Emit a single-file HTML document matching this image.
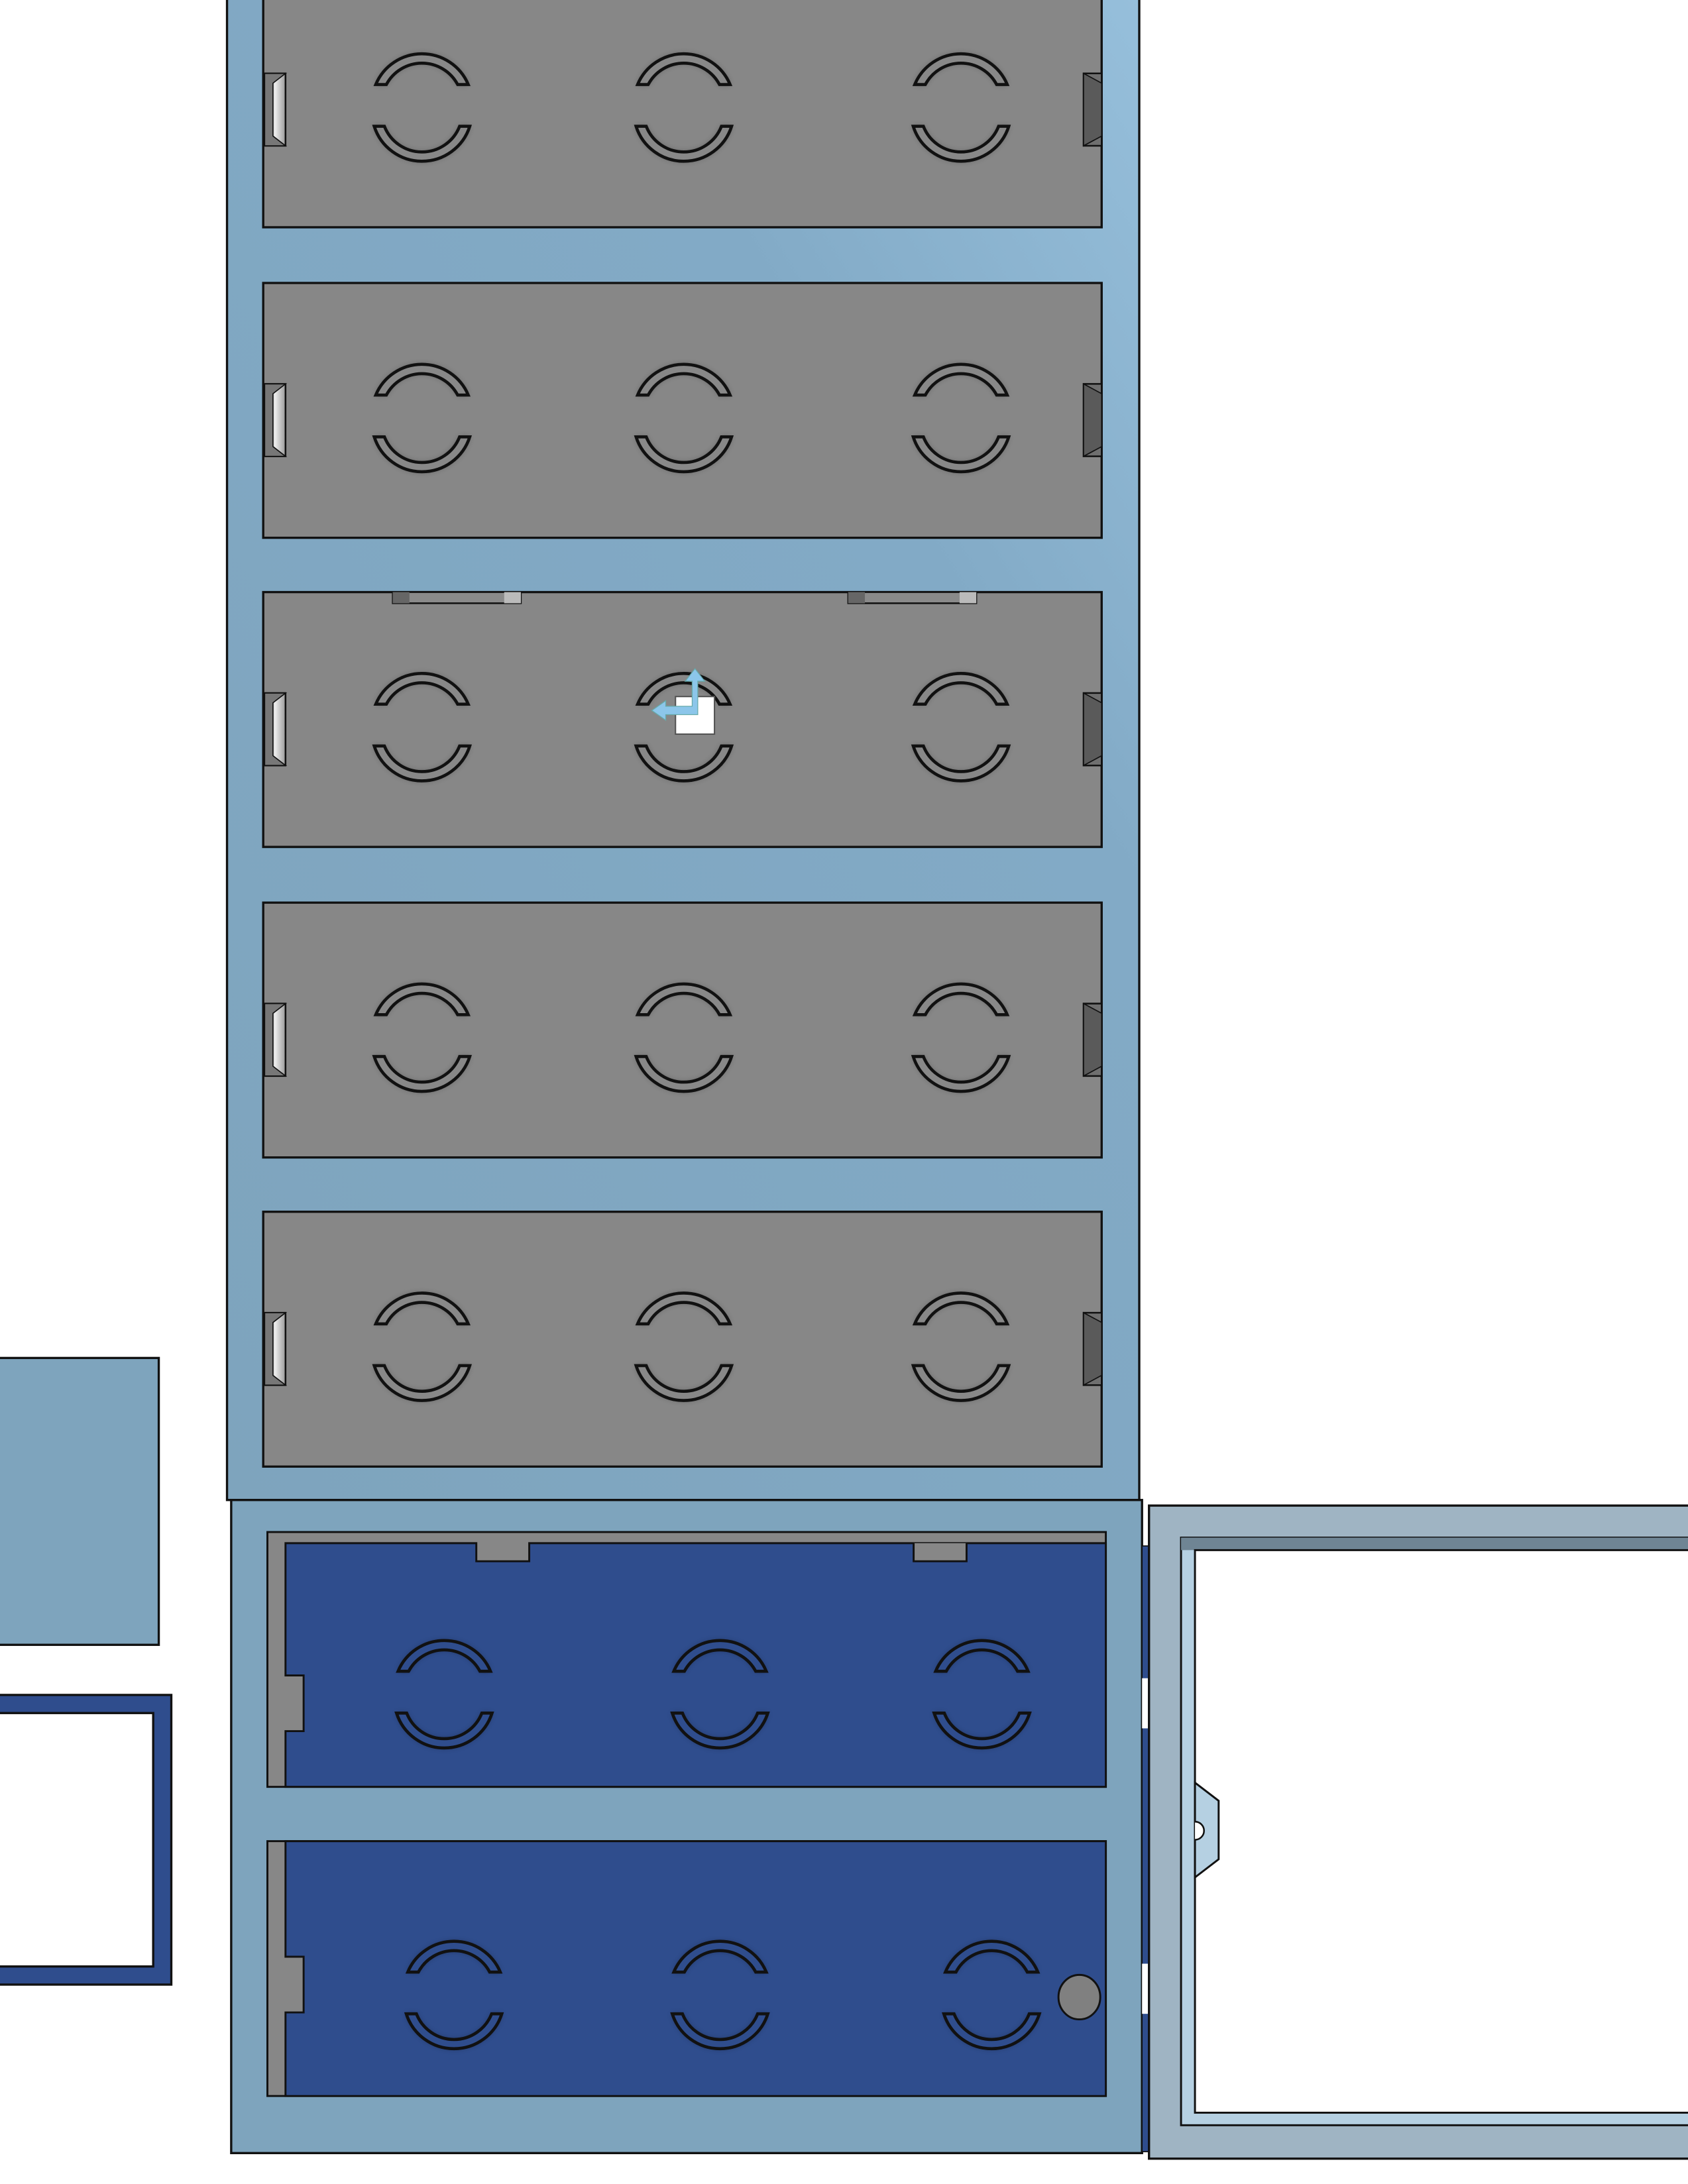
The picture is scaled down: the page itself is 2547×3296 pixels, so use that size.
<!DOCTYPE html>
<html><head><meta charset="utf-8"><style>html,body{margin:0;padding:0;background:#fff}svg{display:block}</style></head>
<body>
<svg width="2547" height="3296" viewBox="0 0 1212 1568" xmlns="http://www.w3.org/2000/svg">
<defs>
<linearGradient id="fr" x1="0" y1="1" x2="1" y2="0">
<stop offset="0" stop-color="#7ea4bd"/><stop offset="0.7" stop-color="#82aac6"/><stop offset="1" stop-color="#96bfdb"/>
</linearGradient>
<linearGradient id="tab" x1="0" y1="0" x2="1" y2="0">
<stop offset="0" stop-color="#555"/><stop offset="0.5" stop-color="#eee"/><stop offset="1" stop-color="#999"/>
</linearGradient>
<filter id="sh" x="-30%" y="-30%" width="160%" height="160%"><feGaussianBlur stdDeviation="2"/></filter>
<g id="arcs" stroke="#111" stroke-width="2.2" stroke-linejoin="miter">
<g fill="#000" opacity="0.35" stroke="none" filter="url(#sh)">
<path d="M-33.2,-11 A36 36 0 0 1 33.2,-11 L25.6,-11 A29 29 0 0 0 -25.6,-11 Z"/>
<path d="M-34.3,19 A36 36 0 0 0 34.3,19 L27,19 A29 29 0 0 1 -27,19 Z"/>
</g>
<path d="M-33.2,-11 A36 36 0 0 1 33.2,-11 L25.6,-11 A29 29 0 0 0 -25.6,-11 Z"/>
<path d="M-34.3,19 A36 36 0 0 0 34.3,19 L27,19 A29 29 0 0 1 -27,19 Z"/>
</g>
<g id="gp">
<rect x="189" y="-91.5" width="602" height="183" fill="#878787" stroke="#111" stroke-width="1.6"/>
<g fill="#888"><use href="#arcs" x="303" y="0"/><use href="#arcs" x="491" y="0"/><use href="#arcs" x="690" y="0"/></g>
<path d="M190,-19 h15 v52 h-15 z" fill="url(#tab)" stroke="#111" stroke-width="1.2"/>
<path d="M190,-19 L205,-19 L196,-12 L196,26 L205,33 L190,33 Z" fill="#777" stroke="#111" stroke-width="0.8"/>
<path d="M778,-19 h13 v52 h-13 z" fill="#6f6f6f" stroke="#111" stroke-width="1.2"/>
<path d="M778,-19 L791,-12 L791,26 L778,33 Z" fill="#5a5a5a" stroke="#111" stroke-width="0.8"/>
</g>
</defs>

<rect x="163" y="-2" width="655" height="1079" fill="url(#fr)" stroke="#111" stroke-width="1.6"/>
<use href="#gp" x="0" y="71.5"/>
<use href="#gp" x="0" y="294.5"/>
<use href="#gp" x="0" y="516.5"/>
<use href="#gp" x="0" y="739.5"/>
<use href="#gp" x="0" y="961.5"/>
<rect x="282" y="425" width="92" height="8" fill="#8a8a8a" stroke="#111" stroke-width="1.2"/>
<rect x="282" y="425" width="12" height="8" fill="#666"/><rect x="362" y="425" width="12" height="8" fill="#bbb"/>
<rect x="609" y="425" width="92" height="8" fill="#8a8a8a" stroke="#111" stroke-width="1.2"/>
<rect x="609" y="425" width="12" height="8" fill="#666"/><rect x="689" y="425" width="12" height="8" fill="#bbb"/>
<rect x="485" y="500" width="28" height="27" fill="#fff" stroke="#555" stroke-width="1"/>
<path d="M497,489 L492,489 L499,480 L506,489 L501,489 L501,513 L478,513 L478,517 L468,510 L478,503 L478,507 L497,507 Z" fill="#8cc6ea" stroke="#6aa" stroke-width="0.6"/>

<rect x="166" y="1077" width="654" height="469" fill="#7ea4bd" stroke="#111" stroke-width="1.6"/>
<rect x="192" y="1100" width="602" height="183" fill="#878787" stroke="#111" stroke-width="1.4"/>
<path d="M205,1108 H342 V1121 H380 V1108 H794 V1283 H205 V1243 H218 V1203 H205 Z" fill="#2f4d8d" stroke="#111" stroke-width="1.4"/>
<path d="M656,1108 V1121 H694 V1108" fill="#878787" stroke="#111" stroke-width="1.4"/>
<g fill="#2f4d8d"><use href="#arcs" x="319" y="1211"/><use href="#arcs" x="517" y="1211"/><use href="#arcs" x="705" y="1211"/></g>
<rect x="192" y="1322" width="602" height="183" fill="#878787" stroke="#111" stroke-width="1.4"/>
<path d="M205,1322 H794 V1505 H205 V1445 H218 V1405 H205 Z" fill="#2f4d8d" stroke="#111" stroke-width="1.4"/>
<g fill="#2f4d8d"><use href="#arcs" x="326" y="1427"/><use href="#arcs" x="517" y="1427"/><use href="#arcs" x="712" y="1427"/></g>
<ellipse cx="775" cy="1434" rx="15" ry="16" fill="#808080" stroke="#111" stroke-width="1.4"/>
<rect x="820" y="1110" width="5" height="435" fill="#2f4d8d" stroke="#111" stroke-width="0.8"/>
<rect x="820" y="1205" width="5" height="36" fill="#fff"/><rect x="820" y="1410" width="5" height="36" fill="#fff"/>

<rect x="825" y="1081" width="400" height="469" fill="#9fb4c3" stroke="#111" stroke-width="1.6"/>
<rect x="848" y="1104" width="380" height="422" fill="#b5d0e2" stroke="#111" stroke-width="1.4"/>
<rect x="848" y="1104" width="380" height="9" fill="#6f8594"/>
<rect x="858" y="1113" width="360" height="404" fill="#fff" stroke="#111" stroke-width="1.4"/>
<path d="M858,1280 L875,1293 L875,1335 L858,1348 Z" fill="#b5d0e2" stroke="#111" stroke-width="1.4"/>
<path d="M858,1308 A6 6 0 0 1 858,1321" fill="#fff" stroke="#111" stroke-width="1.2"/>

<rect x="-5" y="975" width="119" height="206" fill="#7ea4bd" stroke="#111" stroke-width="1.6"/>
<rect x="-5" y="1217" width="128" height="208" fill="#2f4d8d" stroke="#111" stroke-width="1.6"/>
<rect x="-5" y="1230" width="115" height="182" fill="#fff" stroke="#111" stroke-width="1.6"/>
</svg>
</body></html>
